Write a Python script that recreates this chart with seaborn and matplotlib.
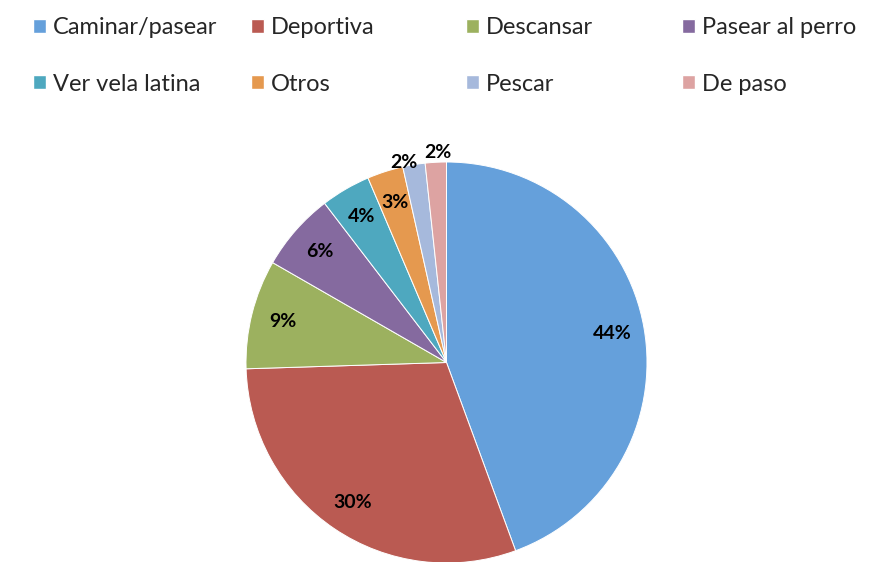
import matplotlib.pyplot as plt
from matplotlib.patches import Patch
import seaborn as sns
import numpy as np

categories = ["Caminar/pasear", "Deportiva", "Descansar", "Pasear al perro",
              "Ver vela latina", "Otros", "Pescar", "De paso"]
shares = [44.4, 30.1, 8.8, 6.3, 4.0, 2.9, 1.8, 1.7]
colors = ["#65A0DB", "#BA5A52", "#9CB15F", "#856A9F",
          "#4EA8BF", "#E5994F", "#A6B9DC", "#DDA3A2"]

sns.set_theme(style="white")
palette = sns.color_palette(colors)
plt.rcParams["font.family"] = ["Lato", "DejaVu Sans"]

fig = plt.figure(figsize=(8.96, 5.62), dpi=100)
# pie centre ~ (447, 363) px, radius ~ 200 px
ax = fig.add_axes([246 / 896, -1 / 562, 401 / 896, 401 / 562])
wedges, texts, autotexts = ax.pie(
    shares, colors=palette, startangle=90, counterclock=False,
    autopct=lambda p: f"{p:.0f}%", pctdistance=0.84,
    wedgeprops=dict(edgecolor="white", linewidth=0.7),
    textprops=dict(fontsize=14, fontweight="bold", color="black"))
ax.set_xlim(-1, 1)
ax.set_ylim(-1, 1)
ax.set_aspect("equal")

# the two smallest slices get their labels just outside the rim
nudges = [(-0.05, 0.01), (0.01, 0.05)]
for w, t, (nx, ny) in zip(wedges[-2:], autotexts[-2:], nudges):
    ang = np.deg2rad((w.theta1 + w.theta2) / 2)
    t.set_position((np.cos(ang) + nx, np.sin(ang) + ny))
    t.set_clip_on(False)

# legend: four evenly spaced columns, two rows
col_x = [19 / 896, 237 / 896, 452 / 896, 668 / 896]
for i, x in enumerate(col_x):
    idx = [i, i + 4]
    handles = [Patch(facecolor=palette[j]) for j in idx]
    fig.legend(handles, [categories[j] for j in idx], loc="upper left",
               bbox_to_anchor=(x, 1 - 3 / 562), frameon=False, fontsize=17,
               handlelength=0.55, handleheight=0.55, handletextpad=0.3,
               labelspacing=1.5, borderaxespad=0.2)

fig.savefig("out.png", dpi=100)
